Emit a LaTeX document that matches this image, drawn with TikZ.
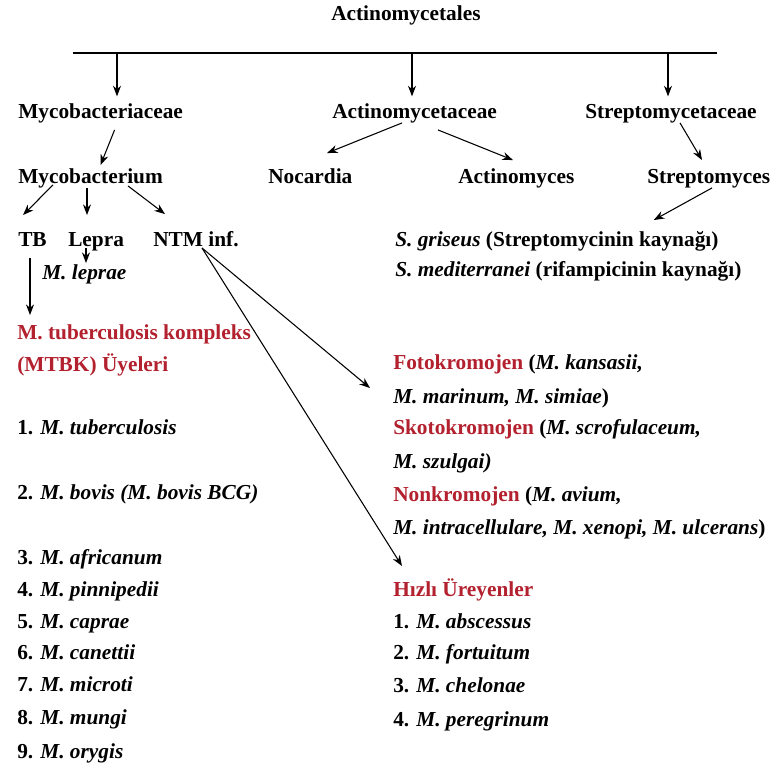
\documentclass[tikz,border=0pt]{standalone}
\usepackage{fontspec}
\setmainfont{Liberation Serif}
\usepackage{tikz}
\usetikzlibrary{arrows.meta,calc}
\definecolor{mtred}{HTML}{B3202E}

\tikzset{
  lbl/.style={anchor=base west, inner sep=0pt, text height=11pt, text depth=3.5pt,
              font=\fontsize{16}{19}\selectfont\bfseries, text=black},
  redlbl/.style={lbl, text=mtred},
  arr/.style={-{Stealth[length=8pt,width=6pt]}, line width=0.8pt}
}

\begin{document}
\begin{tikzpicture}[x=0.75pt, y=-0.75pt]
  \useasboundingbox (0,0) rectangle (778,771);

  % ══ ORDER AND FAMILIES ═════════════════════════════════════════
  \node[lbl] (ordo) at (331, 20) {Actinomycetales};
  \coordinate (hl) at (73, 53);
  \coordinate (hr) at (717, 53);
  \coordinate (dmyc) at (117, 53);
  \coordinate (dact) at (412, 53);
  \coordinate (dstr) at (668, 53);

  \node[lbl] (mycfam) at (18, 118)  {Mycobacteriaceae};
  \node[lbl] (actfam) at (332, 118) {Actinomycetaceae};
  \node[lbl] (strfam) at (585, 118) {Streptomycetaceae};

  % ══ GENERA ═════════════════════════════════════════════════════
  \node[lbl] (mycob) at (18, 183)  {Mycobacterium};
  \node[lbl] (nocar) at (268, 183) {Nocardia};
  \node[lbl] (actin) at (458, 183) {Actinomyces};
  \node[lbl] (strep) at (647, 183) {Streptomyces};

  % ══ MYCOBACTERIUM GROUPS ═══════════════════════════════════════
  \node[lbl] (tb)    at (18, 246)  {TB};
  \node[lbl] (lepra) at (68, 246)  {Lepra};
  \node[lbl] (ntm)   at (153, 246) {NTM inf.};
  \node[lbl] (leprae) at (42, 279) {\itshape M. leprae};

  \node[lbl] (sgri) at (395, 246) {\textit{S. griseus} (Streptomycinin kaynağı)};
  \node[lbl] (smed) at (395, 276) {\textit{S. mediterranei} (rifampicinin kaynağı)};

  % ══ MTBK MEMBERS (left column) ═════════════════════════════════
  \node[redlbl] (mtbk1) at (17, 339) {M. tuberculosis kompleks};
  \node[redlbl] (mtbk2) at (17, 371) {(MTBK) Üyeleri};

  \node[lbl] (tub1) at (17, 434) {1. \textit{M. tuberculosis}};
  \node[lbl] (tub2) at (17, 499) {2. \textit{M. bovis (M. bovis BCG)}};
  \node[lbl] (tub3) at (17, 564) {3. \textit{M. africanum}};
  \node[lbl] (tub4) at (17, 596) {4. \textit{M. pinnipedii}};
  \node[lbl] (tub5) at (17, 628) {5. \textit{M. caprae}};
  \node[lbl] (tub6) at (17, 659) {6. \textit{M. canettii}};
  \node[lbl] (tub7) at (17, 691) {7. \textit{M. microti}};
  \node[lbl] (tub8) at (17, 724) {8. \textit{M. mungi}};
  \node[lbl] (tub9) at (17, 758) {9. \textit{M. orygis}};

  % ══ NTM GROUPS (right column) ══════════════════════════════════
  \node[lbl] (foto)   at (393, 369) {\textcolor{mtred}{Fotokromojen} (\textit{M. kansasii,}};
  \node[lbl] (foto2)  at (393, 403) {\textit{M. marinum, M. simiae})};
  \node[lbl] (skoto)  at (393, 434) {\textcolor{mtred}{Skotokromojen} (\textit{M. scrofulaceum,}};
  \node[lbl] (skoto2) at (393, 468) {\textit{M. szulgai)}};
  \node[lbl] (nonk)   at (393, 501) {\textcolor{mtred}{Nonkromojen} (\textit{M. avium,}};
  \node[lbl] (nonk2)  at (393, 534) {\textit{M. intracellulare, M. xenopi, M. ulcerans})};

  \node[redlbl] (hizli) at (393, 596) {Hızlı Üreyenler};
  \node[lbl] (hiz1) at (393, 628) {1. \textit{M. abscessus}};
  \node[lbl] (hiz2) at (393, 659) {2. \textit{M. fortuitum}};
  \node[lbl] (hiz3) at (393, 692) {3. \textit{M. chelonae}};
  \node[lbl] (hiz4) at (393, 726) {4. \textit{M. peregrinum}};

  % ══ CONNECTORS ═════════════════════════════════════════════════
  \draw[line width=0.8pt] (hl) -- (hr);
  \draw[arr, shorten >=5pt] (dmyc) -- (dmyc |- mycfam.north);
  \draw[arr, shorten >=5pt] (dact) -- (dact |- actfam.north);
  \draw[arr, shorten >=5pt] (dstr) -- (dstr |- strfam.north);

  \draw[arr] ($(mycfam.south)+(14,7)$) -- ($(mycob.north)+(10,-3)$);
  \draw[arr] ($(actfam.south west)+(70,0)$) -- ($(nocar.north west)+(59,-15)$);
  \draw[arr] ($(actfam.south west)+(106,7)$) -- ($(actin.north west)+(55,-8)$);
  \draw[arr] ($(strfam.south west)+(95,0)$) -- ($(strep.north west)+(55,-8)$);
  \draw[arr] ($(strep.south west)+(65,0)$) -- ($(sgri.north east)+(-65,-11)$);

  \draw[arr] ($(mycob.south west)+(35,-3)$) -- ($(tb.north west)+(5,-16)$);
  \draw[arr] ($(mycob.south west)+(69,0)$) -- ($(lepra.north west)+(19,-16)$);
  \draw[arr] ($(mycob.south west)+(110,-2)$) -- ($(ntm.north west)+(12,-17)$);
  \draw[arr] ($(lepra.base west)+(18,2)$) -- ($(leprae.north west)+(44,-1)$);
  \draw[arr] ($(tb.south west)+(12,7)$) -- ($(mtbk1.north west)+(13,-9)$);

  \draw[arr] ($(ntm.base west)+(49,2)$) -- ($(foto2.north west)+(-23,0)$);
  \draw[arr] ($(ntm.base west)+(49,2)$) -- ($(hizli.north west)+(9,-15)$);

\end{tikzpicture}
\end{document}
